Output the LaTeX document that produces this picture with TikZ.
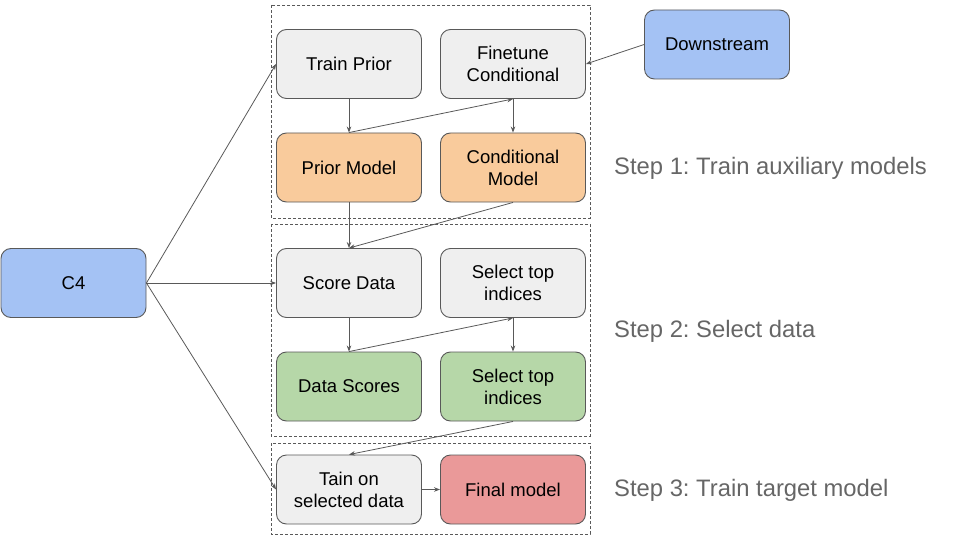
\documentclass[tikz,border=0pt]{standalone}
\usepackage{fontspec}
\setmainfont{Liberation Sans}
\usetikzlibrary{arrows.meta}
\definecolor{boxgray}{HTML}{EFEFEF}
\definecolor{edge}{HTML}{595959}
\definecolor{cblue}{HTML}{A4C2F4}
\definecolor{corange}{HTML}{F9CB9C}
\definecolor{cgreen}{HTML}{B6D7A8}
\definecolor{cred}{HTML}{EA9999}
\definecolor{labelgray}{HTML}{666666}
\tikzset{
  blk/.style={draw=edge, line width=0.9pt, rounded corners=10pt, minimum width=145pt, minimum height=69pt, align=center, font=\fontsize{18.5}{22}\selectfont, text=black, inner sep=2pt},
  grp/.style={draw=edge, line width=0.6pt, dash pattern=on 3pt off 2pt},
  arr/.style={draw=edge, line width=0.8pt, -{Stealth[length=6pt,width=4.5pt]}},
  steplbl/.style={anchor=west, text=labelgray, font=\fontsize{23.8}{28}\selectfont, inner sep=0pt}
}
\begin{document}
\frenchspacing
\begin{tikzpicture}[x=1pt,y=-1pt]
\useasboundingbox (0,0) rectangle (960,540);
% groups
\draw[grp] (271,5) rectangle (590,218);
\draw[grp] (271,224) rectangle (590,436);
\draw[grp] (271,443) rectangle (590,534);
% nodes
\node[blk, fill=cblue] (c4) at (73.5,283) {C4};
\node[blk, fill=cblue] (down) at (717,44.5) {Downstream};
\node[blk, fill=boxgray] (tp) at (349,64) {Train Prior};
\node[blk, fill=boxgray] (fc) at (513,64) {Finetune\\Conditional};
\node[blk, fill=corange] (pm) at (349,167.5) {Prior Model};
\node[blk, fill=corange] (cm) at (513,167.5) {Conditional\\Model};
\node[blk, fill=boxgray] (sd) at (349,283) {Score Data};
\node[blk, fill=boxgray] (st) at (513,283) {Select top\\indices};
\node[blk, fill=cgreen] (ds) at (349,386.5) {Data Scores};
\node[blk, fill=cgreen] (sg) at (513,386.5) {Select top\\indices};
\node[blk, fill=boxgray] (tn) at (349,489.5) {Tain on\\selected data};
\node[blk, fill=cred] (fm) at (513,489.5) {Final model};
% step labels
\node[steplbl] (s1) at (614,168.5) {Step 1: Train auxiliary models};
\node[steplbl] (s2) at (614,331.5) {Step 2: Select data};
\node[steplbl] (s3) at (614,490.5) {Step 3: Train target model};
% connectors
\draw[arr] (c4.east) -- (tp.west);
\draw[arr] (c4.east) -- (sd.west);
\draw[arr] (c4.east) -- (tn.west);
\draw[arr] (down.west) -- (fc.east);
\draw[arr] (tp.south) -- (pm.north);
\draw[arr] (pm.north) -- (fc.south);
\draw[arr] (fc.south) -- (cm.north);
\draw[arr] (pm.south) -- (sd.north);
\draw[arr] (cm.south) -- (sd.north);
\draw[arr] (sd.south) -- (ds.north);
\draw[arr] (ds.north) -- (st.south);
\draw[arr] (st.south) -- (sg.north);
\draw[arr] (sg.south) -- (tn.north);
\draw[arr] (tn.east) -- (fm.west);
\end{tikzpicture}
\end{document}
